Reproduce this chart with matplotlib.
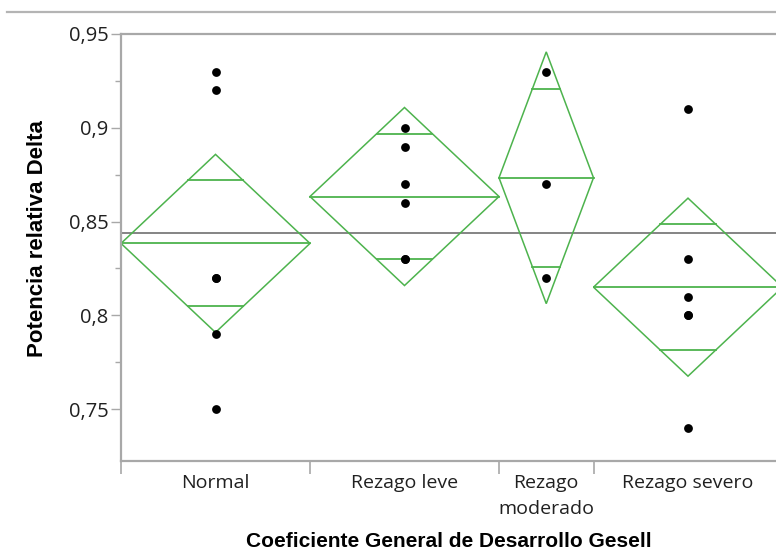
import matplotlib.pyplot as plt
import numpy as np
from matplotlib.lines import Line2D
from matplotlib.patches import Polygon
from matplotlib.ticker import FixedLocator, FuncFormatter

# Potencia relativa Delta por grupo del coeficiente Gesell
groups = ["Normal", "Rezago leve", "Rezago\nmoderado", "Rezago severo"]
normal = [0.93, 0.92, 0.82, 0.82, 0.79, 0.75]
leve = [0.90, 0.89, 0.87, 0.86, 0.83, 0.83]
moderado = [0.93, 0.87, 0.82]
severo = [0.91, 0.83, 0.81, 0.80, 0.80, 0.74]
samples = [normal, leve, moderado, severo]

t_crit = 2.1098  # t(0.975, gl=17)
y_ticks = [0.75, 0.80, 0.85, 0.90, 0.95]

GREEN = "#4db34d"
GRAY = "#a8a8a8"

counts = np.array([len(s) for s in samples])
edges = np.concatenate([[0], np.cumsum(counts)])
centers = (edges[:-1] + edges[1:]) / 2

# pooled error for the diamonds
means = np.array([np.mean(s) for s in samples])
sse = sum(((np.array(s) - m) ** 2).sum() for s, m in zip(samples, means))
mse = sse / (counts.sum() - len(samples))
half = t_crit * np.sqrt(mse / counts)
grand = np.concatenate(samples).mean()

fig = plt.figure(figsize=(7.76, 5.5), dpi=100)
ax = fig.add_axes([121 / 776, 89 / 550, 655 / 776, 427 / 550])

ax.axhline(grand, color="#707070", lw=1.2, zorder=1)

for a, b, c, m, h in zip(edges[:-1], edges[1:], centers, means, half):
    ax.add_patch(Polygon([(a, m), (c, m + h), (b, m), (c, m - h)], closed=True,
                         fill=False, ec=GREEN, lw=1.1, zorder=2))
    ax.plot([a, b], [m, m], color=GREEN, lw=1.3, zorder=2)
    off = h / np.sqrt(2)
    dx = (b - a) / 2 * (1 - 1 / np.sqrt(2))
    for y in (m + off, m - off):
        ax.plot([c - dx, c + dx], [y, y], color=GREEN, lw=1.3, zorder=2)

for c, s in zip(centers, samples):
    ax.scatter(np.full(len(s), c), s, s=40, color="black", zorder=3, lw=0)

ax.set_xlim(0, 655 / 31.5)
ax.set_ylim(0.7223, 0.95)

for side in ("left", "bottom", "top"):
    ax.spines[side].set_color(GRAY)
    ax.spines[side].set_linewidth(1.6)
ax.spines["right"].set_visible(False)

ax.yaxis.set_major_locator(FixedLocator(y_ticks))
ax.yaxis.set_minor_locator(FixedLocator(np.array(y_ticks[:-1]) + 0.025))
ax.yaxis.set_major_formatter(FuncFormatter(lambda v, p: f"{v:g}".replace(".", ",")))
ax.tick_params(axis="y", which="major", length=7, width=1, color=GRAY,
               labelsize=14.5, pad=2)
ax.tick_params(axis="y", which="minor", length=4, width=1, color=GRAY)

ax.xaxis.set_major_locator(FixedLocator(edges))
ax.xaxis.set_minor_locator(FixedLocator(centers))
ax.xaxis.set_major_formatter(FuncFormatter(lambda v, p: ""))
ax.set_xticklabels(groups, minor=True)
ax.tick_params(axis="x", which="major", length=9, width=1.2, color=GRAY)
ax.tick_params(axis="x", which="minor", length=0, labelsize=14, pad=9)
for lab in ax.get_xticklabels(minor=True) + ax.get_yticklabels():
    lab.set_family("Open Sans")
    lab.set_color("#202020")
for lab in ax.get_xticklabels(minor=True):
    lab.set_linespacing(1.6)
    lab.set_verticalalignment("top")

ax.set_ylabel("Potencia relativa Delta", family="Liberation Sans",
              fontweight="bold", fontsize=16)
ax.yaxis.set_label_coords(-0.111, 0.522)
ax.set_xlabel("Coeficiente General de Desarrollo Gesell", family="Liberation Sans",
              fontweight="bold", fontsize=15, labelpad=10)

# outer frame line above the plot
fig.add_artist(Line2D([7 / 776, 1], [1 - 12 / 550, 1 - 12 / 550],
                      color="#b4b4b4", lw=1.6, transform=fig.transFigure))

fig.savefig("out.png", dpi=100)
